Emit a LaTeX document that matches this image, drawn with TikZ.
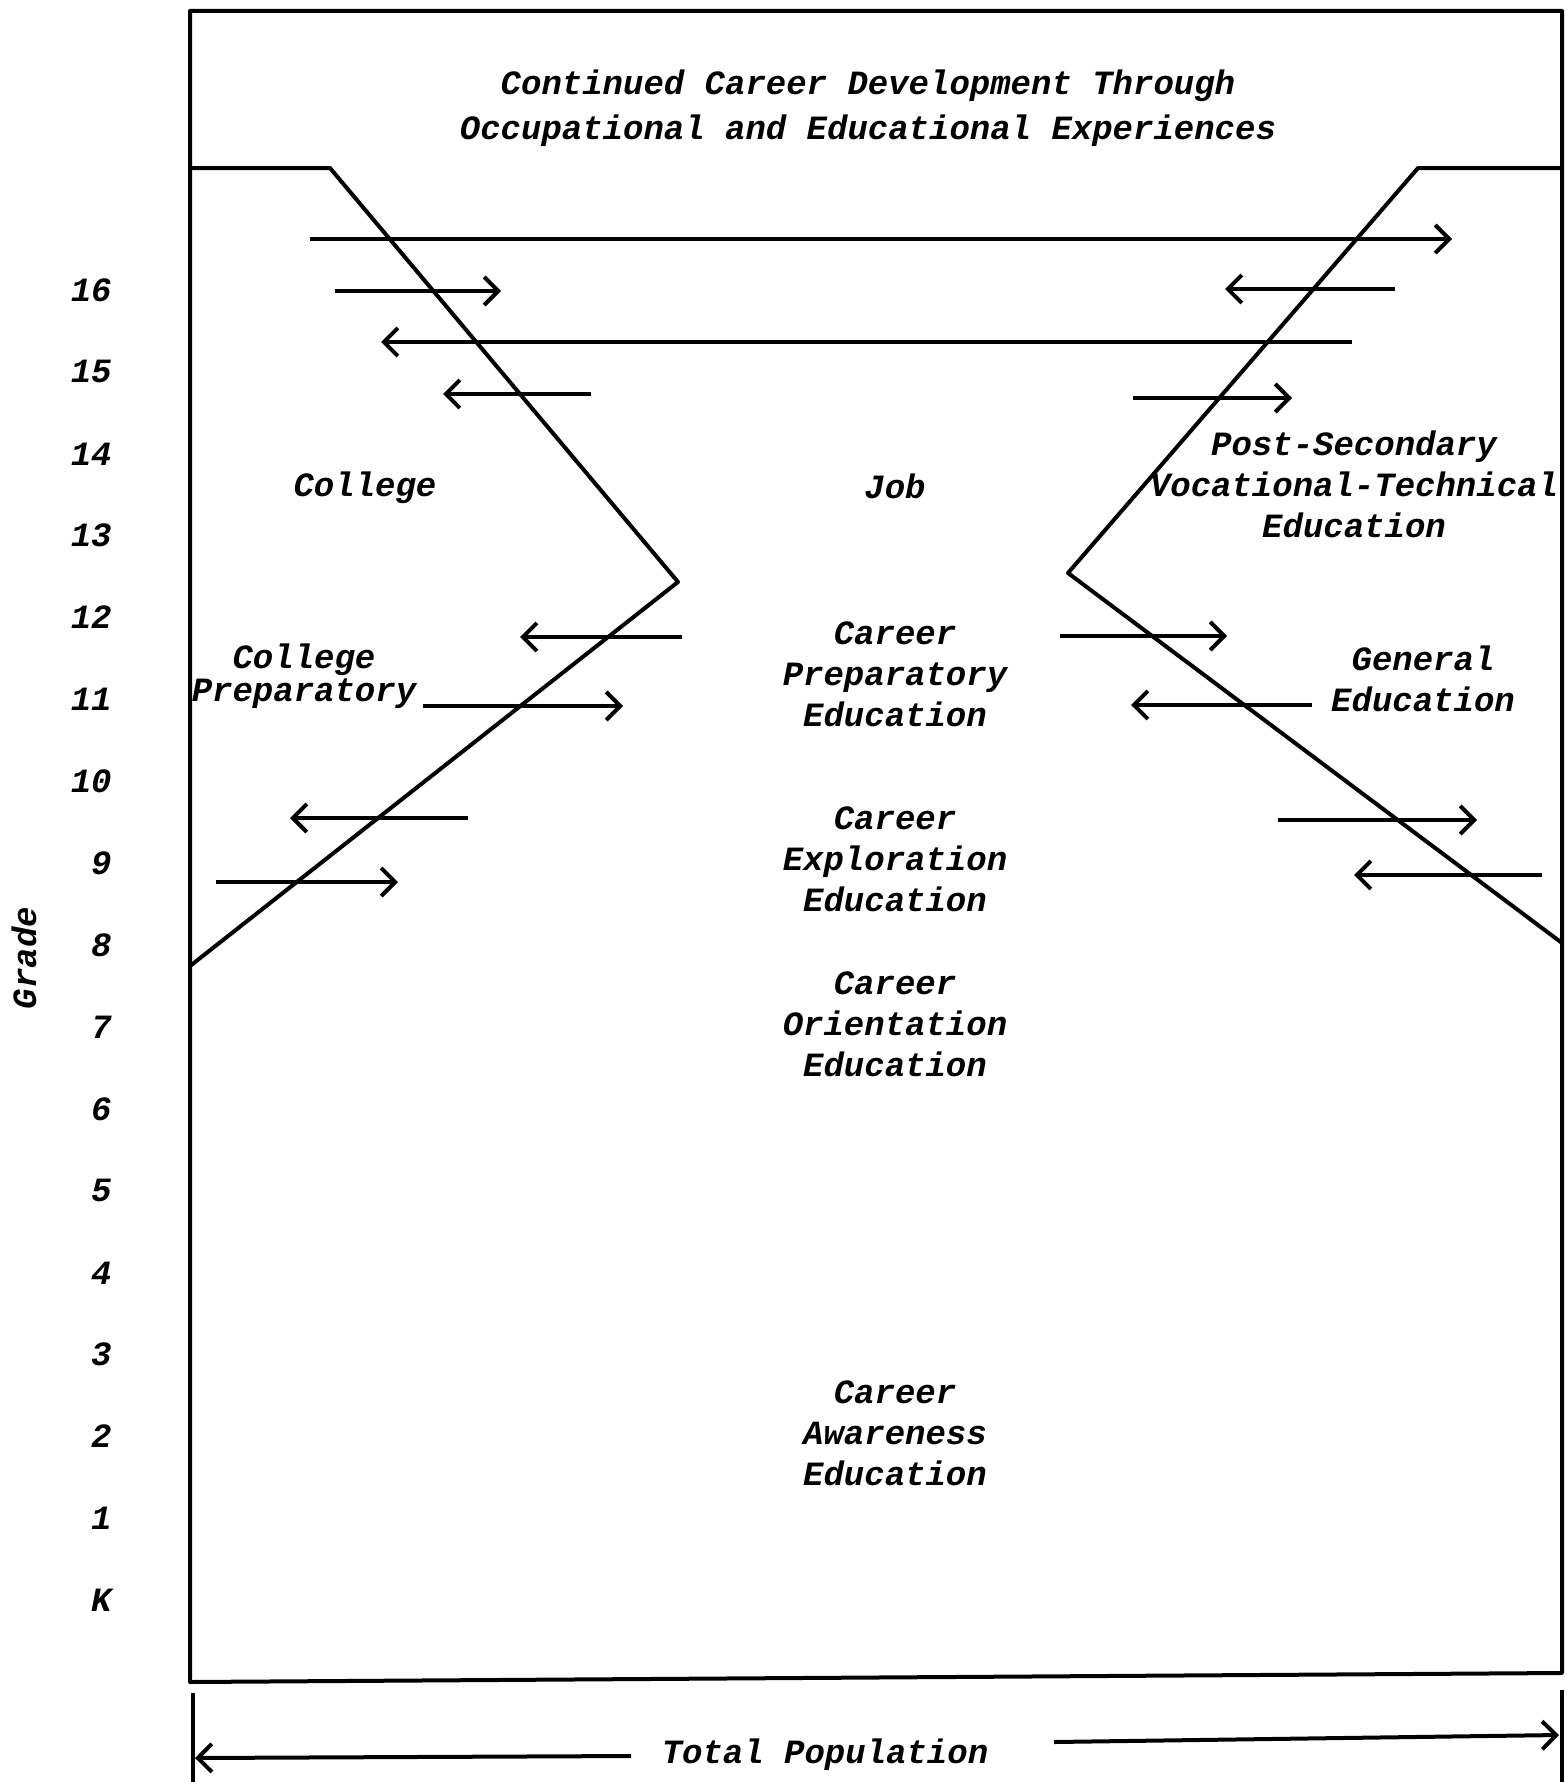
\documentclass[tikz,border=0pt]{standalone}
\usepackage{fontspec}
\setmonofont{Liberation Mono}
\usetikzlibrary{arrows.meta}
\begin{document}
\begin{tikzpicture}[x=0.5pt,y=-0.5pt]
\tikzset{
  lbl/.style={font=\ttfamily\bfseries\itshape\fontsize{17}{20.5}\selectfont, align=center, inner sep=0pt},
  bnd/.style={line width=2pt, line join=round},
  flow/.style={line width=2pt, -{Straight Barb[length=7pt,width=14pt,line width=2pt]}},
}
\useasboundingbox (0,0) rectangle (1567,1782);
% main box and boundaries
\draw[bnd] (190,11) -- (1562,11) -- (1562,1673) -- (190,1682) -- cycle;
\draw[bnd] (190,168) -- (330,168) -- (678,582) -- (190,966);
\draw[bnd] (1562,168) -- (1418,168) -- (1068,573) -- (1562,943);
% lower box sides
\draw[bnd] (193,1693) -- (193,1782);
\draw[bnd] (1562,1690) -- (1562,1782);

% flow arrows
\foreach \n/\xa/\xb/\yy in {
  1/310/1452/239, 2/335/501/291, 3/1352/381/342, 4/591/443/394,
  5/1395/1225/289, 6/1133/1292/398, 7/682/520/637, 8/423/623/706,
  9/468/290/818, 10/216/398/882, 11/1060/1227/636, 12/1312/1131/705,
  13/1278/1477/820, 14/1542/1354/875}{
  \coordinate (a\n s) at (\xa,\yy);
  \coordinate (a\n e) at (\xb,\yy);
  \draw[flow] (a\n s) -- (a\n e);
}

% labels
\node[lbl] (title) at (868,108) {Continued Career Development Through\\[2pt]Occupational and Educational Experiences};
\node[lbl] (college) at (365,488) {College};
\node[lbl] (job) at (895,486) {Job};
\node[lbl] (postsec) at (1354,484) {Post-Secondary\\Vocational-Technical\\Education};
\node[lbl] (colprep) at (304,676) {College\\[-4pt]Preparatory};
\node[lbl] (prep) at (895,674) {Career\\Preparatory\\Education};
\node[lbl] (gen) at (1423,679) {General\\Education};
\node[lbl] (explore) at (895,859) {Career\\Exploration\\Education};
\node[lbl] (orient) at (895,1024) {Career\\Orientation\\Education};
\node[lbl] (aware) at (895,1433) {Career\\Awareness\\Education};
\node[lbl] (total) at (825,1755) {Total Population};

% total population arrows
\coordinate (tpl) at (195,1758);
\coordinate (tpr) at (1559,1735);
\draw[flow] (631,1756) -- (tpl);
\draw[flow] (1054,1742) -- (tpr);

% grades
\foreach \g [count=\i from 0] in {16,15,14,13,12,11,10,9,8,7,6,5,4,3,2,1,K}{
  \node[lbl, anchor=east] (g\g) at (112,{290+81.9*\i}) {\g};
}
\node[lbl, rotate=90] (grade) at (24,958) {Grade};
\end{tikzpicture}
\end{document}
